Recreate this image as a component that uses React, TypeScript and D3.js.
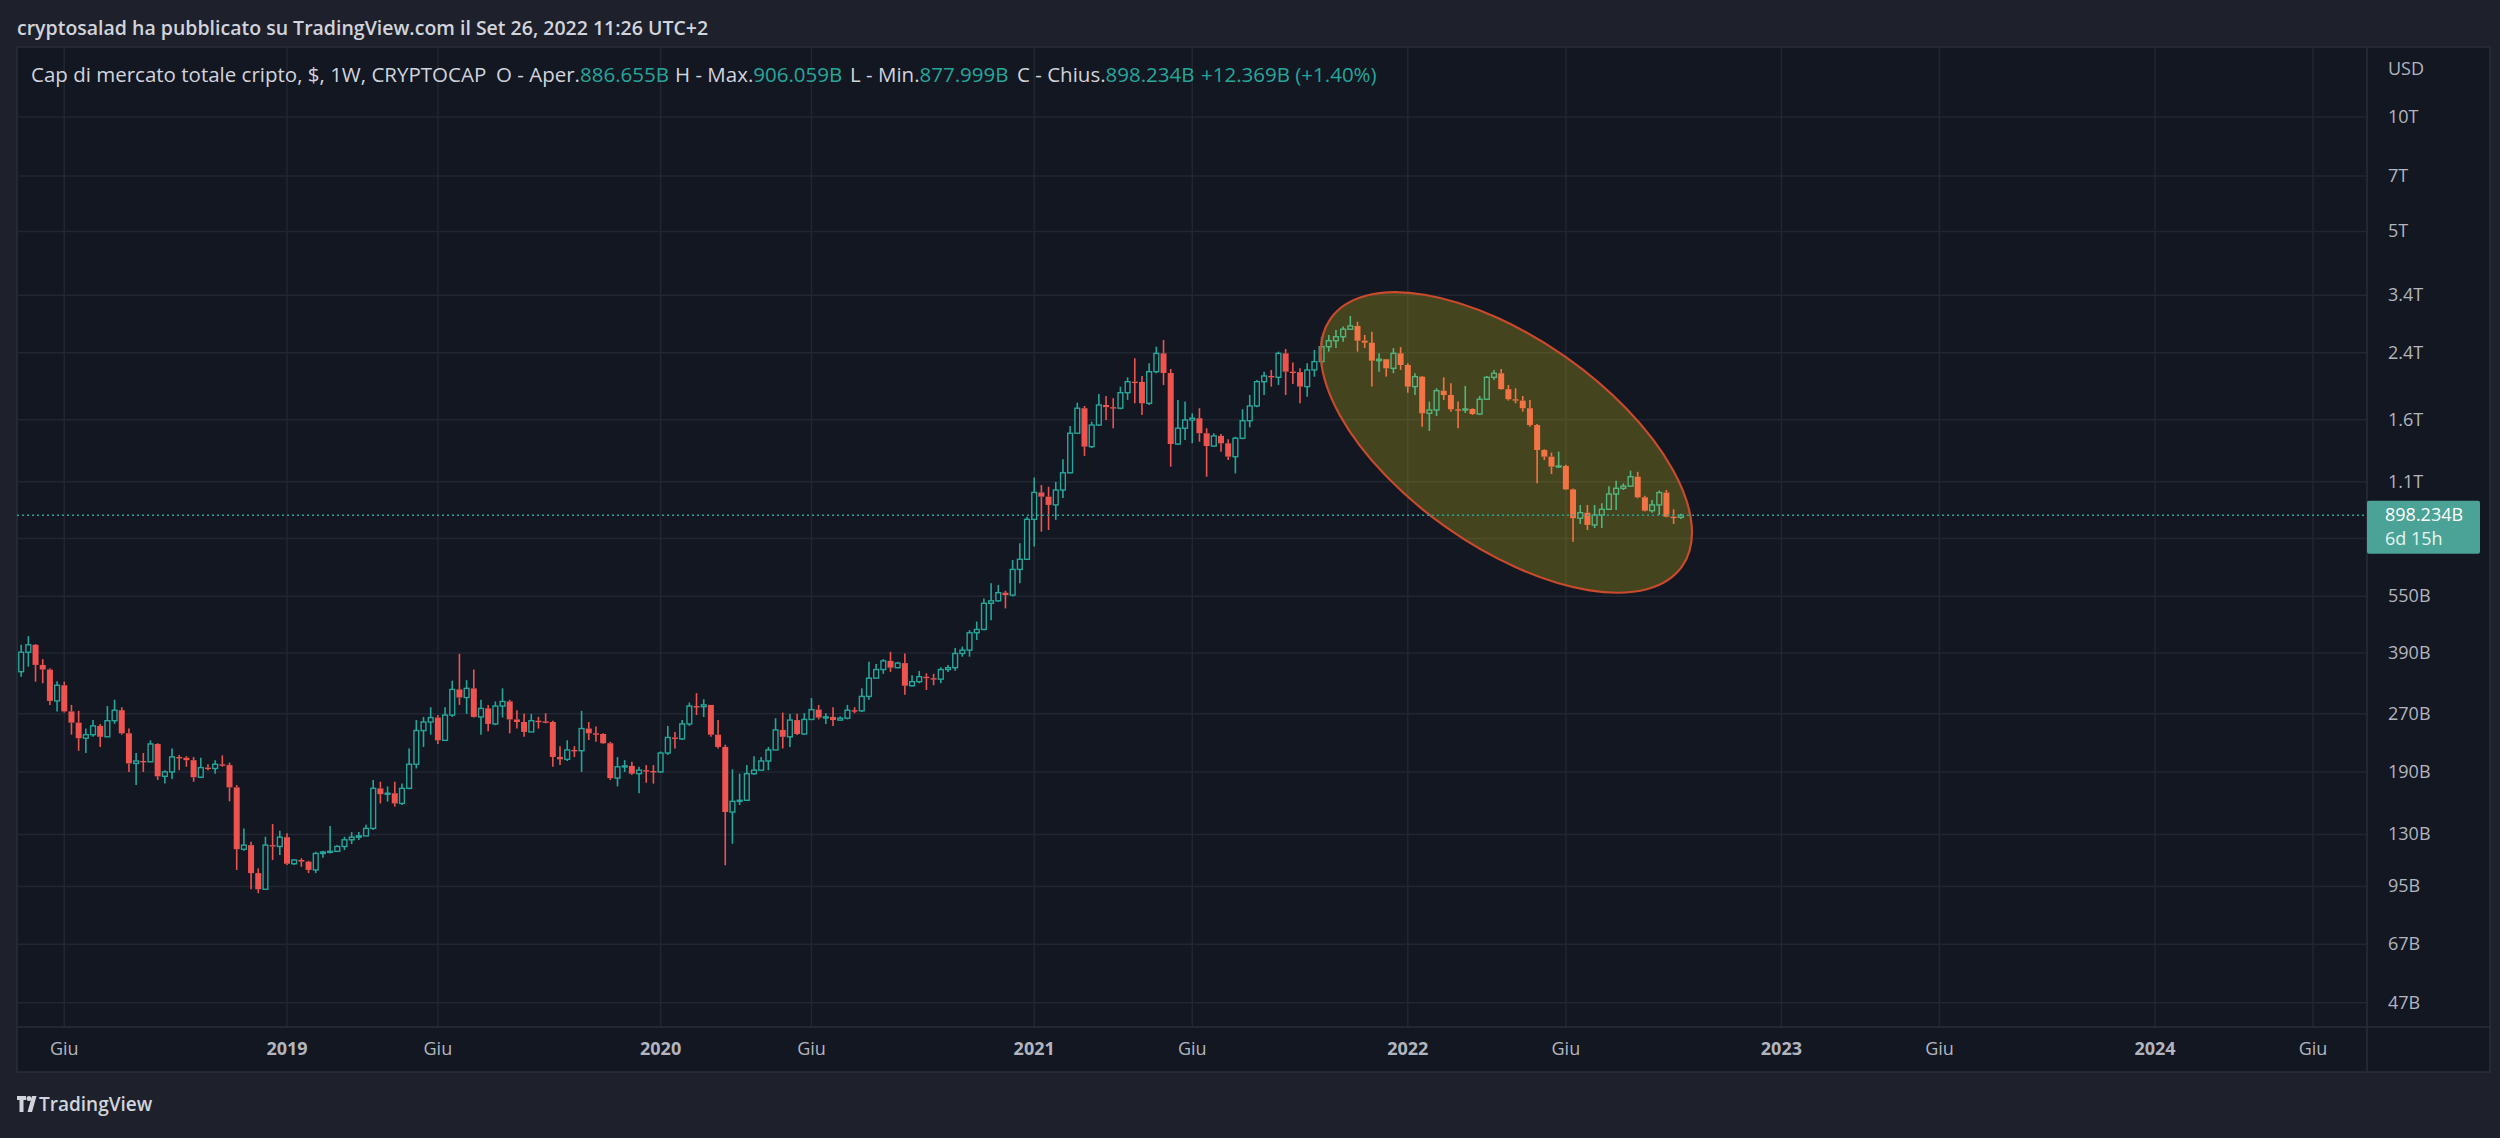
import React from "react";
import * as d3 from "d3";

// weekly candles, billions of USD, first week 2018-04-23, last week 2022-09-26
const opens = [348.4, 392, 410, 363, 353, 292, 321, 274, 256, 233,
  238, 251, 235, 259, 276, 240, 200, 203, 202, 225,
  185, 190, 208, 207, 204, 184, 195, 194, 199, 198,
  173, 119, 122, 103, 93.4, 122, 121, 128, 109, 111.5,
  110.4, 105, 116, 117, 117.5, 121, 126, 128, 129, 135,
  172, 166, 167, 157, 172, 199, 244, 257, 264, 230,
  268, 313, 298, 315, 265, 279, 254, 283, 291, 261,
  257, 242, 259, 258, 257, 208, 205, 217, 216, 247,
  240, 239, 226, 183, 196, 197, 188, 192, 191, 190,
  213, 234, 232, 254, 283, 282, 285, 238, 221, 149,
  159, 160, 188, 192, 203, 217, 245, 235, 260, 239,
  261, 277, 264, 265, 260, 263, 276, 275, 300, 335,
  353, 372, 357, 367, 320, 328, 338, 335, 333, 353,
  357, 389, 397, 441, 450, 527, 535, 562, 554, 647,
  688, 876, 1031, 1005, 956, 1046, 1161, 1475, 1716, 1360,
  1550, 1750, 1727, 1716, 1885, 2015, 2012, 1768, 2141, 2392,
  2124, 1382, 1520, 1598, 1615, 1475, 1365, 1451, 1388, 1280,
  1431, 1591, 1740, 2015, 2086, 2069, 2392, 2141, 2135, 1956,
  2163, 2275, 2490, 2582, 2645, 2768, 2823, 2582, 2551, 2288,
  2308, 2185, 2392, 2229, 1956, 2077, 1664, 1698, 1908, 1859,
  1705, 1698, 1708, 1657, 1812, 2069, 2120, 1926, 1812, 1797,
  1716, 1550, 1333, 1280, 1205, 1210, 1050, 882, 912, 847,
  899, 931, 1021, 1057, 1071, 1134, 1001, 923, 956, 1030,
  890, 886.655];

const highs = [410, 432, 412, 376, 356, 329, 328, 285, 275, 247,
  260, 254, 283, 294, 281, 247, 213, 213, 230, 226,
  192, 219, 210.5, 209, 208, 207, 199, 204, 210, 201,
  175.5, 135, 124.5, 106, 128.3, 138.6, 133, 131, 112, 112.7,
  111, 117.2, 118, 137, 122, 128.3, 132, 132, 138, 181,
  179, 174, 179, 177, 219, 260, 265, 281, 268, 281,
  330, 388, 331, 353, 294, 285, 291, 315, 294, 276,
  270, 270, 265, 271, 259, 222, 230, 222, 275, 257,
  250, 240, 228, 208, 204, 202, 196, 198, 198, 215,
  251, 242, 260, 289, 306, 295, 285, 260, 224, 193,
  188, 198, 209, 208, 221, 263, 272, 270, 270, 271,
  297, 285, 271, 281, 266, 285, 281, 315, 370, 365,
  376, 393, 370, 389, 341, 350, 345, 344, 358, 363,
  402, 405.5, 448, 472, 543, 595, 589, 568.5, 685, 758,
  890, 1129, 1078, 1067, 1098, 1260, 1541, 1775, 1740, 1582,
  1871, 1848, 1823, 1956, 2069, 2322, 2086, 2253, 2490, 2593,
  2176, 1804, 1786, 1664, 1716, 1520, 1475, 1468, 1422, 1444,
  1705, 1859, 2036, 2141, 2163, 2417, 2456, 2262, 2185, 2253,
  2441, 2645, 2673, 2755, 2812, 2999, 2897, 2673, 2727, 2392,
  2308, 2470, 2484, 2253, 2120, 2086, 1786, 1936, 2069, 1996,
  1786, 1964, 1715, 1848, 2086, 2163, 2176, 1975, 1936, 1848,
  1804, 1560, 1339, 1312, 1320, 1218, 1056, 955.6, 955.6, 955.6,
  966, 1071, 1106, 1089, 1176, 1168, 1010, 985, 1043, 1046,
  931, 906.059];

const lows = [338, 359, 328, 325, 285, 274, 272, 238, 216, 213,
  235, 221, 235, 254, 238, 190, 175.5, 190, 202, 181,
  177, 182, 192, 196, 179, 183, 192, 188, 196, 159,
  105, 118, 93.4, 91.2, 93.4, 111.5, 115, 108.2, 108.2, 107,
  103, 103, 113, 116, 117, 118.4, 122.8, 125.8, 129.7, 133.7,
  157, 158.7, 154, 155.5, 171, 194, 221, 238, 225, 229.5,
  265, 285, 270, 264, 238, 243, 252, 264, 240, 247,
  235, 242, 247, 255, 196, 198, 203, 208, 190, 230.5,
  228, 225, 181, 174, 190, 186.5, 167, 178, 177, 189,
  210.5, 219, 230.5, 251, 268, 265, 235, 219, 108, 123,
  155.5, 160, 186.5, 192, 192, 217, 219, 221, 237.6, 237.6,
  260, 261, 254, 251, 259, 261, 271, 273, 294, 335,
  344, 348, 356, 303, 318, 325, 312, 321, 325, 348,
  350.5, 381.6, 381.6, 422, 448, 476, 532, 511, 549, 595,
  685, 743, 813, 821, 873, 997, 1157, 1475, 1286, 1349,
  1541, 1598, 1520, 1705, 1804, 1768, 1647, 1750, 2120, 1975,
  1205, 1374, 1416, 1388, 1401, 1134, 1360, 1318, 1255, 1157,
  1422, 1529, 1727, 1859, 1956, 1975, 1859, 1986, 1768, 1840,
  2077, 2207, 2417, 2470, 2567, 2755, 2417, 2470, 1956, 2141,
  2077, 2120, 2163, 1885, 1859, 1535, 1496, 1637, 1804, 1681,
  1520, 1667, 1647, 1647, 1804, 2036, 1918, 1797, 1768, 1681,
  1535, 1089, 1255, 1152, 1196, 1046, 765, 852, 821, 831,
  831, 927, 927, 1046, 1067, 995, 918, 912, 899, 887,
  852, 877.999];

const closes = [392, 410, 363, 353, 292, 321, 274, 256, 233, 238,
  251, 235, 259, 276, 240, 200, 203, 202, 225, 185,
  190, 208, 207, 204, 184, 195, 194, 199, 198, 173,
  119, 122, 103, 93.4, 122, 121, 128, 109, 111.5, 110.4,
  105, 116, 117, 117.5, 121, 126, 128, 129, 135, 172,
  166, 167, 157, 172, 199, 244, 257, 264, 230, 268,
  313, 298, 315, 265, 279, 254, 283, 291, 261, 257,
  242, 259, 258, 257, 208, 205, 217, 216, 247, 240,
  239, 226, 183, 196, 197, 188, 192, 191, 190, 213,
  234, 232, 254, 283, 282, 285, 238, 221, 149, 159,
  160, 188, 192, 203, 217, 245, 235, 260, 239, 261,
  277, 264, 265, 260, 263, 276, 275, 300, 335, 353,
  372, 357, 367, 320, 328, 338, 335, 333, 353, 357,
  389, 397, 441, 450, 527, 535, 562, 554, 647, 688,
  876, 1031, 1005, 956, 1046, 1161, 1475, 1716, 1360, 1550,
  1750, 1727, 1716, 1885, 2015, 2012, 1768, 2141, 2392, 2124,
  1382, 1520, 1598, 1615, 1475, 1365, 1451, 1388, 1280, 1431,
  1591, 1740, 2015, 2086, 2069, 2392, 2141, 2135, 1956, 2163,
  2275, 2490, 2582, 2645, 2768, 2823, 2582, 2551, 2288, 2308,
  2185, 2392, 2229, 1956, 2077, 1664, 1698, 1908, 1859, 1705,
  1698, 1708, 1657, 1812, 2069, 2120, 1926, 1812, 1797, 1716,
  1550, 1333, 1280, 1205, 1210, 1050, 882, 912, 847, 899,
  931, 1021, 1057, 1071, 1134, 1001, 923, 956, 1030, 890,
  886.655, 898.234];

const priceTicks = [10000, 7000, 5000, 3400, 2400, 1600, 1100, 780, 550, 390, 270, 190, 130, 95, 67, 47];
const priceTickLabels = ["10T", "7T", "5T", "3.4T", "2.4T", "1.6T", "1.1T", "780B", "550B", "390B", "270B", "190B", "130B", "95B", "67B", "47B"];

const timeTickDates = ["2018-06-04", "2019-01-07", "2019-06-03", "2020-01-06", "2020-06-01", "2021-01-04", "2021-06-07",
  "2022-01-03", "2022-06-06", "2023-01-02", "2023-06-05", "2024-01-01", "2024-06-03"];
const timeTickLabels = ["Giu", "2019", "Giu", "2020", "Giu", "2021", "Giu", "2022", "Giu", "2023", "Giu", "2024", "Giu"];

// legend groups: label then value, each group starts at its own x
const legendGroups = [
  { label: "Cap di mercato totale cripto, $, 1W, CRYPTOCAP", value: "", x: 31 },
  { label: "O - Aper.", value: "886.655B", x: 496 },
  { label: "H - Max.", value: "906.059B", x: 675 },
  { label: "L - Min.", value: "877.999B", x: 850 },
  { label: "C - Chius.", value: "898.234B", x: 1017 },
  { label: "", value: "+12.369B (+1.40%)", x: 1201 },
];

// annotation ellipse, centred in data space
const ellipseCenter = { date: "2022-04-09", value: 1395 };

const W = 2500;
const H = 1138;
const pane = { left: 17, right: 2367, top: 47, bottom: 1027 };
const axisRight = 2490;
const timeBottom = 1072;

const UP = "#26a69a";
const DOWN = "#ef5350";
const TEXT = "#b2b5be";
const GRID = "#222632";
const BORDER = "#2a2e39";
const FONT = "'Open Sans', Roboto, sans-serif";

const parse = d3.utcParse("%Y-%m-%d");

const App = () => {
  const weeks = d3.utcMonday.range(new Date(Date.UTC(2018, 3, 23)), new Date(Date.UTC(2022, 8, 27)));
  const n = Math.min(weeks.length, closes.length);

  const x = d3
    .scaleUtc()
    .domain([new Date(Date.UTC(2019, 0, 7)), new Date(Date.UTC(2024, 0, 1))])
    .range([287, 2155]);
  const y = d3.scaleLog().domain([47, 10000]).range([1002.75, 116.95]);

  const last = closes[n - 1];
  const yLast = y(last);

  const ex = x(parse(ellipseCenter.date) as Date);
  const ey = y(ellipseCenter.value);

  return (
    <div style={{ position: "absolute", left: 0, top: 0 }}>
      <svg width={W} height={H} style={{ display: "block" }} fontFamily={FONT}>
        <defs>
          <clipPath id="pane">
            <rect x={pane.left} y={pane.top} width={pane.right - pane.left} height={pane.bottom - pane.top} />
          </clipPath>
        </defs>
        <rect width={W} height={H} fill="#1e212b" />
        <text x={17} y={35} fontSize={19.5} fontWeight={600} fill="#d1d4dc">
          cryptosalad ha pubblicato su TradingView.com il Set 26, 2022 11:26 UTC+2
        </text>

        <rect x={pane.left} y={pane.top} width={axisRight - pane.left} height={timeBottom - pane.top} fill="#131722" stroke={BORDER} strokeWidth={1.5} />

        {/* grid */}
        <g clipPath="url(#pane)">
          {priceTicks.map((v, i) => (
            <line key={"h" + i} x1={pane.left} x2={pane.right} y1={y(v)} y2={y(v)} stroke={GRID} strokeWidth={1.5} />
          ))}
          {timeTickDates.map((d, i) => {
            const tx = x(parse(d) as Date);
            return <line key={"v" + i} x1={tx} x2={tx} y1={pane.top} y2={pane.bottom} stroke={GRID} strokeWidth={1.5} />;
          })}
        </g>

        {/* candles */}
        <g clipPath="url(#pane)">
          {weeks.slice(0, n).map((d, i) => {
            const cx = x(d);
            const o = opens[i];
            const c = closes[i];
            const up = c >= o;
            const col = up ? UP : DOWN;
            const yTop = y(Math.max(o, c));
            const yBot = y(Math.min(o, c));
            const yHi = y(Math.max(highs[i], o, c));
            const yLo = y(Math.min(lows[i], o, c));
            return (
              <g key={i}>
                <line x1={cx} x2={cx} y1={yHi} y2={yTop} stroke={col} strokeWidth={1.6} />
                <line x1={cx} x2={cx} y1={yBot} y2={yLo} stroke={col} strokeWidth={1.6} />
                {up ? (
                  <rect x={cx - 2.4} y={yTop} width={4.8} height={Math.max(yBot - yTop, 1)} fill="#131722" stroke={col} strokeWidth={1.4} />
                ) : (
                  <rect x={cx - 3} y={yTop} width={6} height={Math.max(yBot - yTop, 1.4)} fill={col} />
                )}
              </g>
            );
          })}

          <ellipse
            cx={ex}
            cy={ey}
            rx={215}
            ry={104}
            transform={`rotate(35.2 ${ex} ${ey})`}
            fill="rgba(255,235,20,0.21)"
            stroke="#c94a2c"
            strokeWidth={2.2}
          />

          <line x1={pane.left} x2={pane.right} y1={yLast} y2={yLast} stroke={UP} strokeWidth={1.6} strokeDasharray="2 3" />
        </g>

        {/* axis separators */}
        <line x1={pane.right} x2={pane.right} y1={pane.top} y2={timeBottom} stroke={BORDER} strokeWidth={1.5} />
        <line x1={pane.left} x2={axisRight} y1={pane.bottom} y2={pane.bottom} stroke={BORDER} strokeWidth={1.5} />

        {/* legend */}
        {legendGroups.map((g, i) => (
          <text key={"lg" + i} x={g.x} y={82} fontSize={20.5}>
            {g.label && <tspan fill="#d1d4dc">{g.label}</tspan>}
            {g.value && <tspan fill={UP}>{g.value}</tspan>}
          </text>
        ))}

        {/* price axis */}
        <text x={2388} y={70} fontSize={18} fill={TEXT} dominantBaseline="middle">
          USD
        </text>
        {priceTicks.map((v, i) =>
          Math.abs(y(v) - yLast) < 30 ? null : (
            <text key={"pl" + i} x={2388} y={y(v) + 1} fontSize={18} fill={TEXT} dominantBaseline="middle">
              {priceTickLabels[i]}
            </text>
          )
        )}
        <rect x={pane.right} y={yLast - 14.5} width={113} height={53} rx={2} fill="#4aa396" />
        <text x={2385} y={yLast + 1} fontSize={18} fill="#ffffff" dominantBaseline="middle">
          {d3.format(".3f")(last)}B
        </text>
        <text x={2385} y={yLast + 25} fontSize={18} fill="#e6f4f1" dominantBaseline="middle">
          6d 15h
        </text>

        {/* time axis */}
        {timeTickDates.map((d, i) => (
          <text
            key={"tl" + i}
            x={x(parse(d) as Date)}
            y={1050}
            fontSize={18}
            fill={TEXT}
            textAnchor="middle"
            dominantBaseline="middle"
            fontWeight={timeTickLabels[i] === "Giu" ? 400 : 700}
          >
            {timeTickLabels[i]}
          </text>
        ))}

        {/* TradingView logo */}
        <g transform="translate(17,1096)" fill="#d1d4dc">
          <path d="M0 0 H9 V4 H6.5 V16 H2.5 V4 H0 Z" />
          <circle cx={12} cy={2.5} r={2.5} />
          <path d="M15 0 H19.5 L15 16 H10.5 Z" />
        </g>
        <text x={39} y={1111} fontSize={19} fontWeight={600} fill="#d1d4dc">
          TradingView
        </text>
      </svg>
    </div>
  );
};

export default App;
